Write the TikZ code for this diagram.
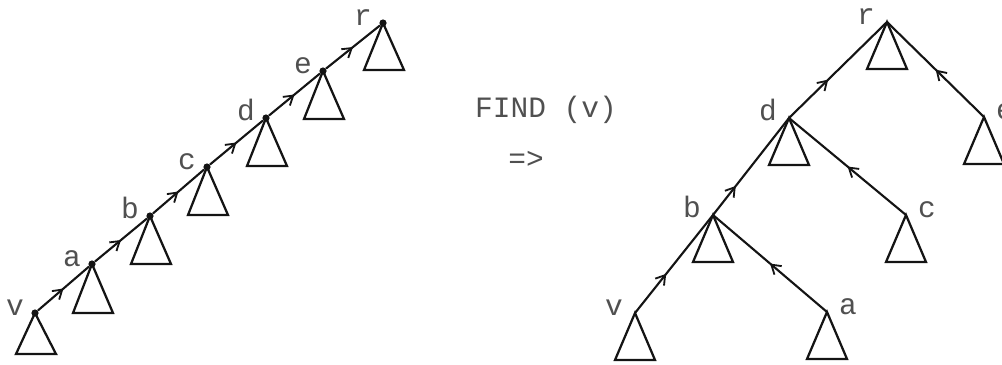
\documentclass[tikz,border=0pt]{standalone}
\usepackage{fontspec}
\setmonofont{Liberation Mono}
\usetikzlibrary{arrows.meta,decorations.markings}
\definecolor{uink}{HTML}{141414}
\definecolor{utext}{HTML}{505050}
\tikzset{
  edge/.style={draw=uink, line width=1.5pt, postaction={decorate},
    decoration={markings, mark=at position #1 with {\arrow{Straight Barb[length=2.2mm,width=2.8mm,line width=1.3pt]}}}},
  edge/.default=0.5,
  sub/.style={draw=uink, line width=1.6pt, line join=miter},
  lbl/.style={font=\ttfamily\fontsize{21}{25}\selectfont, text=utext, inner sep=0pt},
  pt/.style={circle, fill=uink, inner sep=0pt, minimum size=1.8mm},
}

\begin{document}
\begin{tikzpicture}[x=0.25mm, y=-0.25mm]
  \useasboundingbox (0,0) rectangle (1002,364);
  % path before FIND: v up to the root r
  \foreach \n/\x/\y/\h in {v/35/313/41, a/92/264/49, b/150/216/48, c/207/167/48, d/266/118/48, e/323/71/48, r/383/23/47} {
    \node[pt] (L\n) at (\x,\y) {};
    \draw[sub] (L\n.center) -- ++(-19,\h) -- ++(40,0) -- cycle;
    \node[lbl, anchor=base] (llab\n) at (\x-20,\y+2) {\n};
  }
  \foreach \p/\q in {v/a, a/b, b/c, c/d, d/e, e/r} \draw[edge] (L\p) -- (L\q);

  \node[lbl] (find) at (546,110) {FIND (v)};
  \node[lbl] (imp) at (526,160) {=>};

  % after FIND: every node on the path hangs from r
  \foreach \n/\x/\y/\s in {r/887/22/-1, d/789/118/-1, e/984/117/1, b/713/215/-1, c/906/215/1, v/635/313/-1, a/827/312/1} {
    \coordinate (R\n) at (\x,\y);
    \draw[sub] (R\n) -- ++(-20,47) -- ++(40,0) -- cycle;
    \node[lbl, anchor=base] (rlab\n) at (\x+\s*21,\y+2) {\n};
  }
  \draw[edge=0.4] (Rd) -- (Rr);
  \draw[edge] (Re) -- (Rr);
  \draw[edge=0.3] (Rb) -- (Rd);
  \draw[edge] (Rc) -- (Rd);
  \draw[edge=0.4] (Rv) -- (Rb);
  \draw[edge] (Ra) -- (Rb);
\end{tikzpicture}
\end{document}
